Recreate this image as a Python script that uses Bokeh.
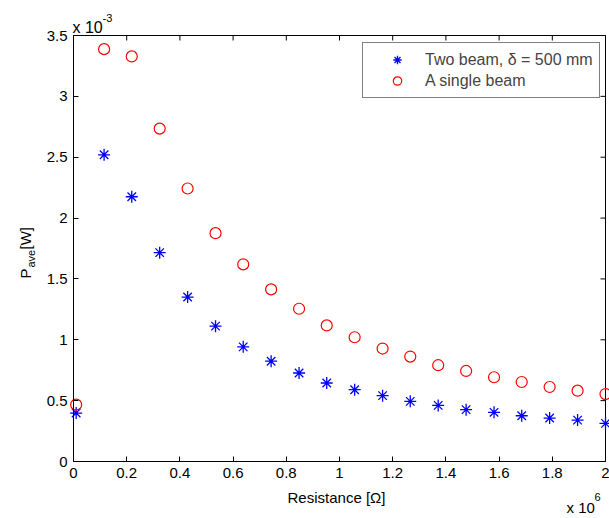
import math
from bokeh.plotting import figure
from bokeh.models import (Range1d, LinearAxis, Label, Legend, LegendItem,
                          CustomJSTickFormatter, FixedTicker)
from bokeh.embed import file_html
from bokeh.resources import INLINE

# ---- data ----
resistance = [0.01e6, 0.115e6, 0.219e6, 0.324e6, 0.429e6, 0.534e6, 0.638e6,
              0.743e6, 0.848e6, 0.952e6, 1.057e6, 1.162e6, 1.266e6, 1.371e6,
              1.476e6, 1.581e6, 1.685e6, 1.790e6, 1.895e6, 2.0e6]
p_two_beam = [0.398e-3, 2.52e-3, 2.175e-3, 1.716e-3, 1.351e-3, 1.112e-3, 0.942e-3,
              0.824e-3, 0.727e-3, 0.645e-3, 0.590e-3, 0.541e-3, 0.494e-3, 0.461e-3,
              0.426e-3, 0.404e-3, 0.376e-3, 0.357e-3, 0.340e-3, 0.313e-3]
p_single = [0.467e-3, 3.388e-3, 3.328e-3, 2.735e-3, 2.243e-3, 1.876e-3, 1.620e-3,
            1.414e-3, 1.255e-3, 1.118e-3, 1.021e-3, 0.928e-3, 0.862e-3, 0.791e-3,
            0.744e-3, 0.692e-3, 0.653e-3, 0.612e-3, 0.582e-3, 0.554e-3]
x_ticks = [0, 0.2e6, 0.4e6, 0.6e6, 0.8e6, 1.0e6, 1.2e6, 1.4e6, 1.6e6, 1.8e6, 2.0e6]
y_ticks = [0, 0.5e-3, 1.0e-3, 1.5e-3, 2.0e-3, 2.5e-3, 3.0e-3, 3.5e-3]
series_names = ["Two beam, \u03b4 = 500 mm", "A single beam"]
x_title = "Resistance [\u03a9]"

FONT = "Liberation Sans"
FS = "15px"

# page geometry (pixels): the plotting box spans L..RX horizontally, TY..BY vertically
W, H = 609, 518
L, RX, TY, BY = 73, 605, 35, 461
XMIN, XMAX, YMIN, YMAX = 0, 2e6, 0, 3.5e-3
SX = (XMAX - XMIN) / (RX - L)
SY = (YMAX - YMIN) / (BY - TY)


def px_x(px):
    return XMIN + (px - L) * SX


def px_y(py):
    return YMIN + (BY - py) * SY


p = figure(width=W, height=H, output_backend="svg", toolbar_location=None,
           x_range=Range1d(px_x(0), px_x(W)), y_range=Range1d(px_y(H), px_y(0)),
           min_border=0, min_border_left=0, min_border_right=0,
           min_border_top=0, min_border_bottom=0,
           x_axis_location=None, y_axis_location=None)
p.background_fill_color = "white"
p.border_fill_color = "white"
p.outline_line_color = None
p.grid.visible = False

xfmt = CustomJSTickFormatter(code="return String(Math.round(tick/1e5)/10);")
yfmt = CustomJSTickFormatter(code="return String(Math.round(tick*1e4)/10);")


def style_axis(ax):
    ax.axis_line_color = "black"
    ax.major_tick_in = 5
    ax.major_tick_out = 0
    ax.minor_tick_in = 0
    ax.minor_tick_out = 0
    ax.major_tick_line_color = "black"
    ax.major_label_text_font = FONT
    ax.major_label_text_font_size = FS
    ax.major_label_text_color = "black"
    ax.major_label_standoff = 6


xb = LinearAxis(ticker=FixedTicker(ticks=x_ticks), formatter=xfmt,
                fixed_location=YMIN, bounds=(XMIN, XMAX))
style_axis(xb)
p.add_layout(xb, "below")

yl = LinearAxis(ticker=FixedTicker(ticks=y_ticks), formatter=yfmt,
                fixed_location=XMIN, bounds=(YMIN, YMAX))
style_axis(yl)
p.add_layout(yl, "left")

# box and inward ticks on the top and right edges
p.quad(left=[XMIN], right=[XMAX], bottom=[YMIN], top=[YMAX],
       fill_color=None, line_color="black", line_width=1)
tick_dx = 5 * SX
tick_dy = 5 * SY
p.segment(x0=x_ticks, y0=[YMAX] * len(x_ticks), x1=x_ticks,
          y1=[YMAX - tick_dy] * len(x_ticks), line_color="black", line_width=1)
p.segment(x0=[XMAX] * len(y_ticks), y0=y_ticks, x1=[XMAX - tick_dx] * len(y_ticks),
          y1=y_ticks, line_color="black", line_width=1)

r_two = p.scatter(resistance, p_two_beam, marker="asterisk", size=12,
                  line_color="#0000ff", line_width=1.3)
r_one = p.scatter(resistance, p_single, marker="circle", size=11,
                  line_color="#ff0000", fill_color=None, line_width=1.2)

legend = Legend(items=[LegendItem(label=series_names[0], renderers=[r_two]),
                       LegendItem(label=series_names[1], renderers=[r_one])],
                location=(362, H - 98), orientation="vertical")
legend.label_text_font = FONT
legend.label_text_font_size = "16px"
legend.border_line_color = "black"
legend.border_line_width = 1
legend.background_fill_alpha = 1.0
legend.padding = 6
legend.spacing = 0
legend.glyph_width = 56
legend.glyph_height = 21
legend.label_height = 21
legend.label_standoff = 0
legend.margin = 0
p.add_layout(legend, "center")


def add_text(px, py, text, size, angle=0.0, align="left", baseline="alphabetic"):
    p.add_layout(Label(x=px_x(px), y=px_y(py), text=text, text_font=FONT,
                       text_font_size=size, text_baseline=baseline,
                       text_align=align, angle=angle, text_color="black"))


# x-axis title
add_text(336, 497, x_title, FS, align="center", baseline="middle")

# exponent labels
add_text(72, 27, "x 10", "16px")
add_text(102, 17, "-3", "11px")
add_text(566, 507, "x 10", FS)
add_text(594, 496, "6", "11px")

# rotated y-axis label: P_ave[W]
ang = math.pi / 2
add_text(25, 278, "P", FS, ang)
add_text(30, 267, "ave", "11px", ang)
add_text(25, 249, "[W]", FS, ang)

open("out.html", "w").write(file_html(p, INLINE))
